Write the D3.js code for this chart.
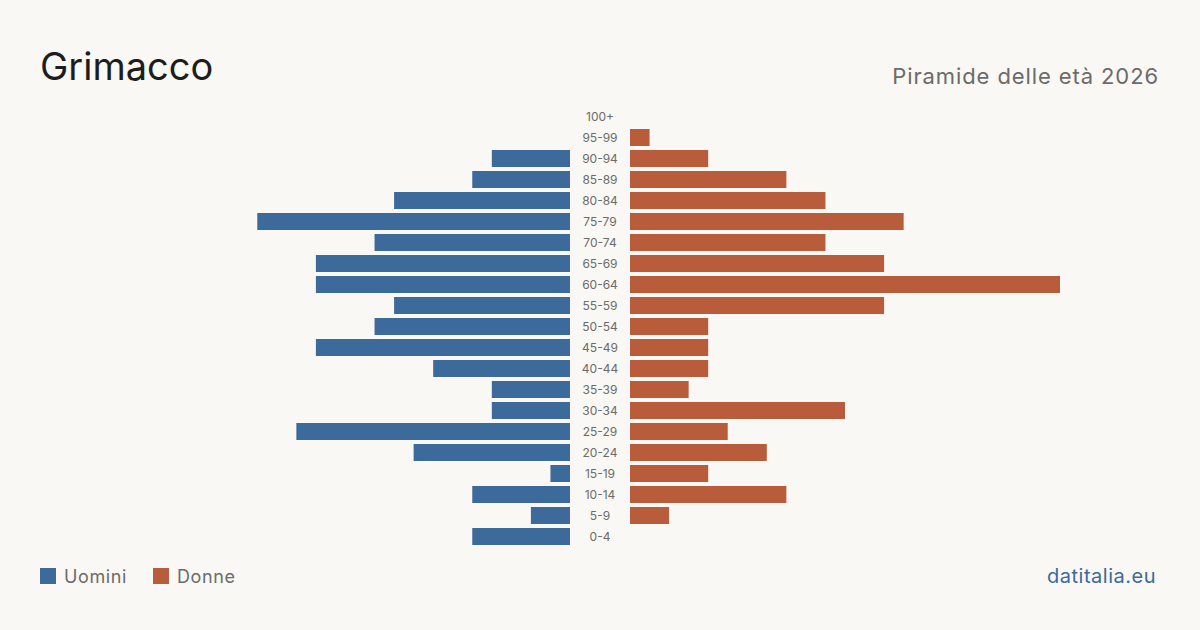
<!DOCTYPE html>
<html>
<head>
<meta charset="utf-8" />
<title>Grimacco</title>
<script src="https://d3js.org/d3.v7.min.js"></script>
<style>
  body { margin: 0; background: #f9f8f4; }
  svg { display: block; font-family: Inter, "Noto Sans", sans-serif; }
</style>
</head>
<body>
<script>
// fasce d'età, dall'alto verso il basso
var ages = ["100+", "95-99", "90-94", "85-89", "80-84", "75-79", "70-74", "65-69", "60-64", "55-59",
            "50-54", "45-49", "40-44", "35-39", "30-34", "25-29", "20-24", "15-19", "10-14", "5-9", "0-4"];
var uomini = [0, 0, 4, 5, 9, 16, 10, 13, 13, 9, 10, 13, 7, 4, 4, 14, 8, 1, 5, 2, 5];
var donne  = [0, 1, 4, 8, 10, 14, 10, 13, 22, 13, 4, 4, 4, 3, 11, 5, 7, 4, 8, 2, 0];

var width = 1200, height = 630;
var blue = "#3b6a9b", orange = "#b95c3c";

var svg = d3.select("body").append("svg")
    .attr("width", width)
    .attr("height", height);

svg.append("rect").attr("width", width).attr("height", height).attr("fill", "#f9f8f4");

svg.append("text")
    .attr("x", 40).attr("y", 80)
    .attr("font-size", 38)
    .attr("fill", "#1d1d1d")
    .text("Grimacco");

svg.append("text")
    .attr("x", 1159).attr("y", 84)
    .attr("text-anchor", "end")
    .attr("font-size", 22)
    .attr("letter-spacing", 0.9)
    .attr("fill", "#6b6b6b")
    .text("Piramide delle età 2026");

var y = d3.scaleBand()
    .domain(ages)
    .range([106, 547])
    .paddingInner(4 / 21)
    .paddingOuter(2 / 21);

var maxV = d3.max(uomini.concat(donne));
var xl = d3.scaleLinear().domain([0, maxV]).range([570, 140]);
var xr = d3.scaleLinear().domain([0, maxV]).range([630, 1060]);

var rows = ages.map(function(a, i) { return {age: a, m: uomini[i], f: donne[i]}; });

svg.selectAll(".m")
    .data(rows.filter(function(d) { return d.m > 0; }))
    .enter().append("rect")
    .attr("class", "m")
    .attr("x", function(d) { return xl(d.m); })
    .attr("y", function(d) { return y(d.age); })
    .attr("width", function(d) { return xl(0) - xl(d.m); })
    .attr("height", y.bandwidth())
    .attr("fill", blue);

svg.selectAll(".f")
    .data(rows.filter(function(d) { return d.f > 0; }))
    .enter().append("rect")
    .attr("class", "f")
    .attr("x", xr(0))
    .attr("y", function(d) { return y(d.age); })
    .attr("width", function(d) { return xr(d.f) - xr(0); })
    .attr("height", y.bandwidth())
    .attr("fill", orange);

svg.selectAll(".age")
    .data(ages)
    .enter().append("text")
    .attr("class", "age")
    .attr("x", 600)
    .attr("y", function(d) { return y(d) + y.bandwidth() / 2; })
    .attr("dy", "0.35em")
    .attr("text-anchor", "middle")
    .attr("font-size", 12)
    .attr("fill", "#6b6b6b")
    .text(function(d) { return d; });

// legenda
var legend = [{label: "Uomini", color: blue, x: 40}, {label: "Donne", color: orange, x: 153}];
var lg = svg.selectAll(".leg").data(legend).enter().append("g").attr("class", "leg");
lg.append("rect")
    .attr("x", function(d) { return d.x; })
    .attr("y", 568)
    .attr("width", 16).attr("height", 16)
    .attr("fill", function(d) { return d.color; });
lg.append("text")
    .attr("x", function(d) { return d.x + 24; })
    .attr("y", 583)
    .attr("font-size", 18)
    .attr("letter-spacing", 0.6)
    .attr("fill", "#6b6b6b")
    .text(function(d) { return d.label; });

svg.append("text")
    .attr("x", 1156).attr("y", 583)
    .attr("text-anchor", "end")
    .attr("font-size", 20)
    .attr("letter-spacing", 0.5)
    .attr("fill", blue)
    .text("datitalia.eu");
</script>
</body>
</html>
